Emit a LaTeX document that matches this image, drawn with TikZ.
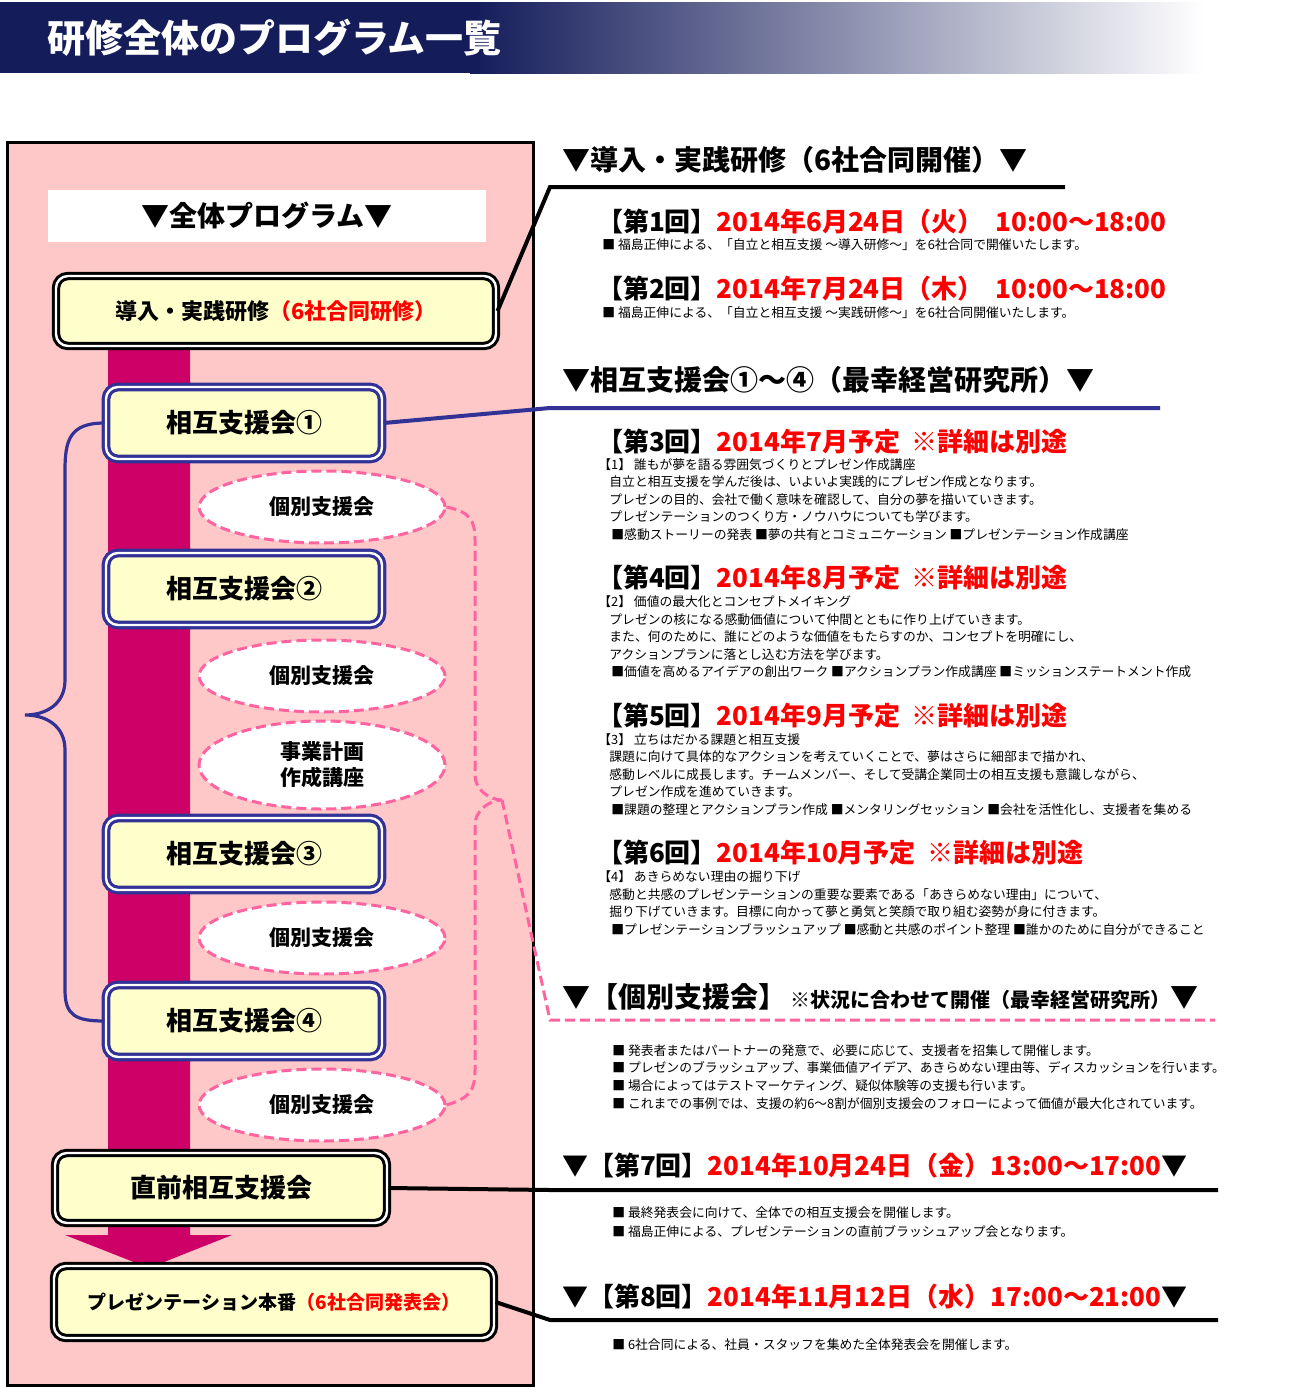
\documentclass[tikz,border=0pt]{standalone}
\usepackage{fontspec}
\setmainfont{Noto Sans CJK JP}
\usetikzlibrary{calc,positioning,shapes.geometric}
\definecolor{navy}{RGB}{20,28,90}
\definecolor{frameblue}{RGB}{50,50,150}
\definecolor{panelpink}{RGB}{255,200,200}
\definecolor{barmag}{RGB}{204,0,102}
\definecolor{boxyellow}{RGB}{255,255,204}
\definecolor{dashpink}{RGB}{255,100,160}
\definecolor{datered}{RGB}{255,0,0}
\tikzset{
  mainbox/.style={draw=black, fill=boxyellow, rounded corners=6pt, line width=1.5pt,
    double=white, double distance=1.2pt, font=\bfseries\fontsize{11}{13}\selectfont, align=center},
  subbox/.style={draw=frameblue, fill=boxyellow, rounded corners=6pt, line width=1.6pt,
    double=white, double distance=1.2pt, font=\bfseries\fontsize{13}{15}\selectfont,
    minimum width=138pt, minimum height=36pt},
  pinkdash/.style={draw=dashpink, dash pattern=on 5pt off 2.5pt, line width=1.5pt},
  ovalnote/.style={ellipse, pinkdash, fill=white,
    minimum width=123pt, font=\bfseries\fontsize{10.5}{13}\selectfont, align=center},
  head/.style={anchor=west, font=\bfseries\fontsize{14}{16}\selectfont},
  date/.style={anchor=west, font=\bfseries\fontsize{13}{15}\selectfont},
  small/.style={anchor=west, font=\fontsize{6.4}{8}\selectfont, inner sep=0pt},
}
\begin{document}
\begin{tikzpicture}[x=0.5pt,y=-0.5pt]
  \useasboundingbox (0,0) rectangle (1310,1387);
  % title banner
  \shade[left color=navy, right color=white, draw=none] (470,2) rectangle (1205,73);
  \fill[navy] (0,2) rectangle (480,73);
  \node[anchor=west, text=white, font=\bfseries\fontsize{19}{21}\selectfont] (title) at (40,38) {研修全体のプログラム一覧};
  % left panel
  \draw[fill=panelpink, line width=1.5pt] (7,142) rectangle (533,1385);
  \fill[white] (48,190) rectangle (486,242);
  \node[font=\bfseries\fontsize{14}{16}\selectfont] (whole) at (267,216) {▼全体プログラム▼};
  % magenta flow arrow
  \fill[barmag] (108,350) -- (190,350) -- (190,1235) -- (232,1235) -- (149,1268)
    -- (65,1235) -- (108,1235) -- cycle;
  % boxes
  \node[mainbox, minimum width=220pt, minimum height=35pt] (intro) at (276,311)
    {導入・実践研修{\color{datered}（6社合同研修）}};
  \node[subbox] (s1) at (244,423) {相互支援会①};
  \node[subbox] (s2) at (244,589) {相互支援会②};
  \node[subbox] (s3) at (244,854) {相互支援会③};
  \node[subbox] (s4) at (244,1021) {相互支援会④};
  \node[mainbox, minimum width=166pt, minimum height=35pt, font=\bfseries\fontsize{13}{15}\selectfont] (final) at (221,1188) {直前相互支援会};
  \node[mainbox, minimum width=220pt, minimum height=36pt, font=\bfseries\fontsize{9.5}{11}\selectfont] (pres) at (274,1302)
    {プレゼンテーション本番{\color{datered}（6社合同発表会）}};
  \node[ovalnote, minimum height=36pt] (o1) at (322,507) {個別支援会};
  \node[ovalnote, minimum height=36pt] (o2) at (322,676) {個別支援会};
  \node[ovalnote, minimum height=44pt, inner sep=1pt] (o3) at (322,765) {事業計画\\作成講座};
  \node[ovalnote, minimum height=36pt] (o4) at (322,938) {個別支援会};
  \node[ovalnote, minimum height=36pt] (o5) at (322,1105) {個別支援会};
  % navy brace
  \draw[frameblue, line width=1.6pt] (s1.west) .. controls (70,423) and (65,440) .. (65,470)
    -- (65,680) .. controls (65,705) and (45,715) .. (25,715)
    .. controls (45,715) and (65,725) .. (65,750) -- (65,990)
    .. controls (65,1015) and (75,1021) .. (s4.west);
  % pink dashed brace
  \coordinate (tip) at (502,800);
  \draw[pinkdash] (o1.east) .. controls (470,512) and (475,520) .. (475,540)
    -- (475,775) .. controls (475,790) and (490,800) .. (tip);
  \draw[pinkdash] (o5.east) .. controls (470,1098) and (475,1090) .. (475,1070)
    -- (475,825) .. controls (475,810) and (490,800) .. (tip);
  \coordinate (indiv) at (550,1020);
  \draw[pinkdash] (tip) -- (indiv) -- (1215,1020);
  % section rules and connectors
  \coordinate (r1) at (550,187);
  \draw[line width=2pt] (intro.east) -- (r1) -- (1065,187);
  \coordinate (r2) at (550,408);
  \draw[frameblue, line width=2pt] (s1.east) -- (r2) -- (1160,408);
  \coordinate (r7) at (550,1190);
  \draw[line width=2pt] (final.east) -- (r7) -- (1218,1190);
  \coordinate (r8) at (550,1320);
  \draw[line width=2pt] (pres.east) -- (r8) -- (1218,1320);
  % right texts
  \node[head] (h1) at (555,160) {▼導入・実践研修（6社合同開催）▼};
  \node[date] (d1) at (590,222) {【第1回】{\color{datered}2014年6月24日（火）\ \ 10:00～18:00}};
  \node[small] (t1) at (602,245) {■ 福島正伸による、「自立と相互支援 ～導入研修～」を6社合同で開催いたします。};
  \node[date] (d2) at (590,289) {【第2回】{\color{datered}2014年7月24日（木）\ \ 10:00～18:00}};
  \node[small] (t2) at (602,313) {■ 福島正伸による、「自立と相互支援 ～実践研修～」を6社合同開催いたします。};
  \node[head] (h2) at (555,380) {▼相互支援会①～④（最幸経営研究所）▼};
  \node[date] (d3) at (590,442) {【第3回】{\color{datered}2014年7月予定\ \ ※詳細は別途}};
  \node[small] at (598,465) {【1】 誰もが夢を語る雰囲気づくりとプレゼン作成講座};
  \node[small] at (609,482) {自立と相互支援を学んだ後は、いよいよ実践的にプレゼン作成となります。};
  \node[small] at (609,500) {プレゼンの目的、会社で働く意味を確認して、自分の夢を描いていきます。};
  \node[small] at (609,517) {プレゼンテーションのつくり方・ノウハウについても学びます。};
  \node[small] at (611,535) {■感動ストーリーの発表 ■夢の共有とコミュニケーション ■プレゼンテーション作成講座};
  \node[date] (d4) at (590,578) {【第4回】{\color{datered}2014年8月予定\ \ ※詳細は別途}};
  \node[small] at (598,602) {【2】 価値の最大化とコンセプトメイキング};
  \node[small] at (609,620) {プレゼンの核になる感動価値について仲間とともに作り上げていきます。};
  \node[small] at (609,637) {また、何のために、誰にどのような価値をもたらすのか、コンセプトを明確にし、};
  \node[small] at (609,655) {アクションプランに落とし込む方法を学びます。};
  \node[small] at (611,672) {■価値を高めるアイデアの創出ワーク ■アクションプラン作成講座 ■ミッションステートメント作成};
  \node[date] (d5) at (590,716) {【第5回】{\color{datered}2014年9月予定\ \ ※詳細は別途}};
  \node[small] at (598,740) {【3】 立ちはだかる課題と相互支援};
  \node[small] at (609,757) {課題に向けて具体的なアクションを考えていくことで、夢はさらに細部まで描かれ、};
  \node[small] at (609,775) {感動レベルに成長します。チームメンバー、そして受講企業同士の相互支援も意識しながら、};
  \node[small] at (609,792) {プレゼン作成を進めていきます。};
  \node[small] at (611,810) {■課題の整理とアクションプラン作成 ■メンタリングセッション ■会社を活性化し、支援者を集める};
  \node[date] (d6) at (590,853) {【第6回】{\color{datered}2014年10月予定\ \ ※詳細は別途}};
  \node[small] at (598,877) {【4】 あきらめない理由の掘り下げ};
  \node[small] at (609,895) {感動と共感のプレゼンテーションの重要な要素である「あきらめない理由」について、};
  \node[small] at (609,912) {掘り下げていきます。目標に向かって夢と勇気と笑顔で取り組む姿勢が身に付きます。};
  \node[small] at (611,930) {■プレゼンテーションブラッシュアップ ■感動と共感のポイント整理 ■誰かのために自分ができること};
  \node[head] (h3) at (555,997) {▼【個別支援会】{\fontsize{10}{12}\selectfont\ ※状況に合わせて開催（最幸経営研究所）}▼};
  \node[small] at (612,1051) {■ 発表者またはパートナーの発意で、必要に応じて、支援者を招集して開催します。};
  \node[small] at (612,1068) {■ プレゼンのブラッシュアップ、事業価値アイデア、あきらめない理由等、ディスカッションを行います。};
  \node[small] at (612,1086) {■ 場合によってはテストマーケティング、疑似体験等の支援も行います。};
  \node[small] at (612,1104) {■ これまでの事例では、支援の約6～8割が個別支援会のフォローによって価値が最大化されています。};
  \node[date] (d7) at (555,1166) {▼【第7回】{\color{datered}2014年10月24日（金）13:00～17:00}▼};
  \node[small] at (612,1213) {■ 最終発表会に向けて、全体での相互支援会を開催します。};
  \node[small] at (612,1232) {■ 福島正伸による、プレゼンテーションの直前ブラッシュアップ会となります。};
  \node[date] (d8) at (555,1297) {▼【第8回】{\color{datered}2014年11月12日（水）17:00～21:00}▼};
  \node[small] at (612,1345) {■ 6社合同による、社員・スタッフを集めた全体発表会を開催します。};
\end{tikzpicture}
\end{document}
